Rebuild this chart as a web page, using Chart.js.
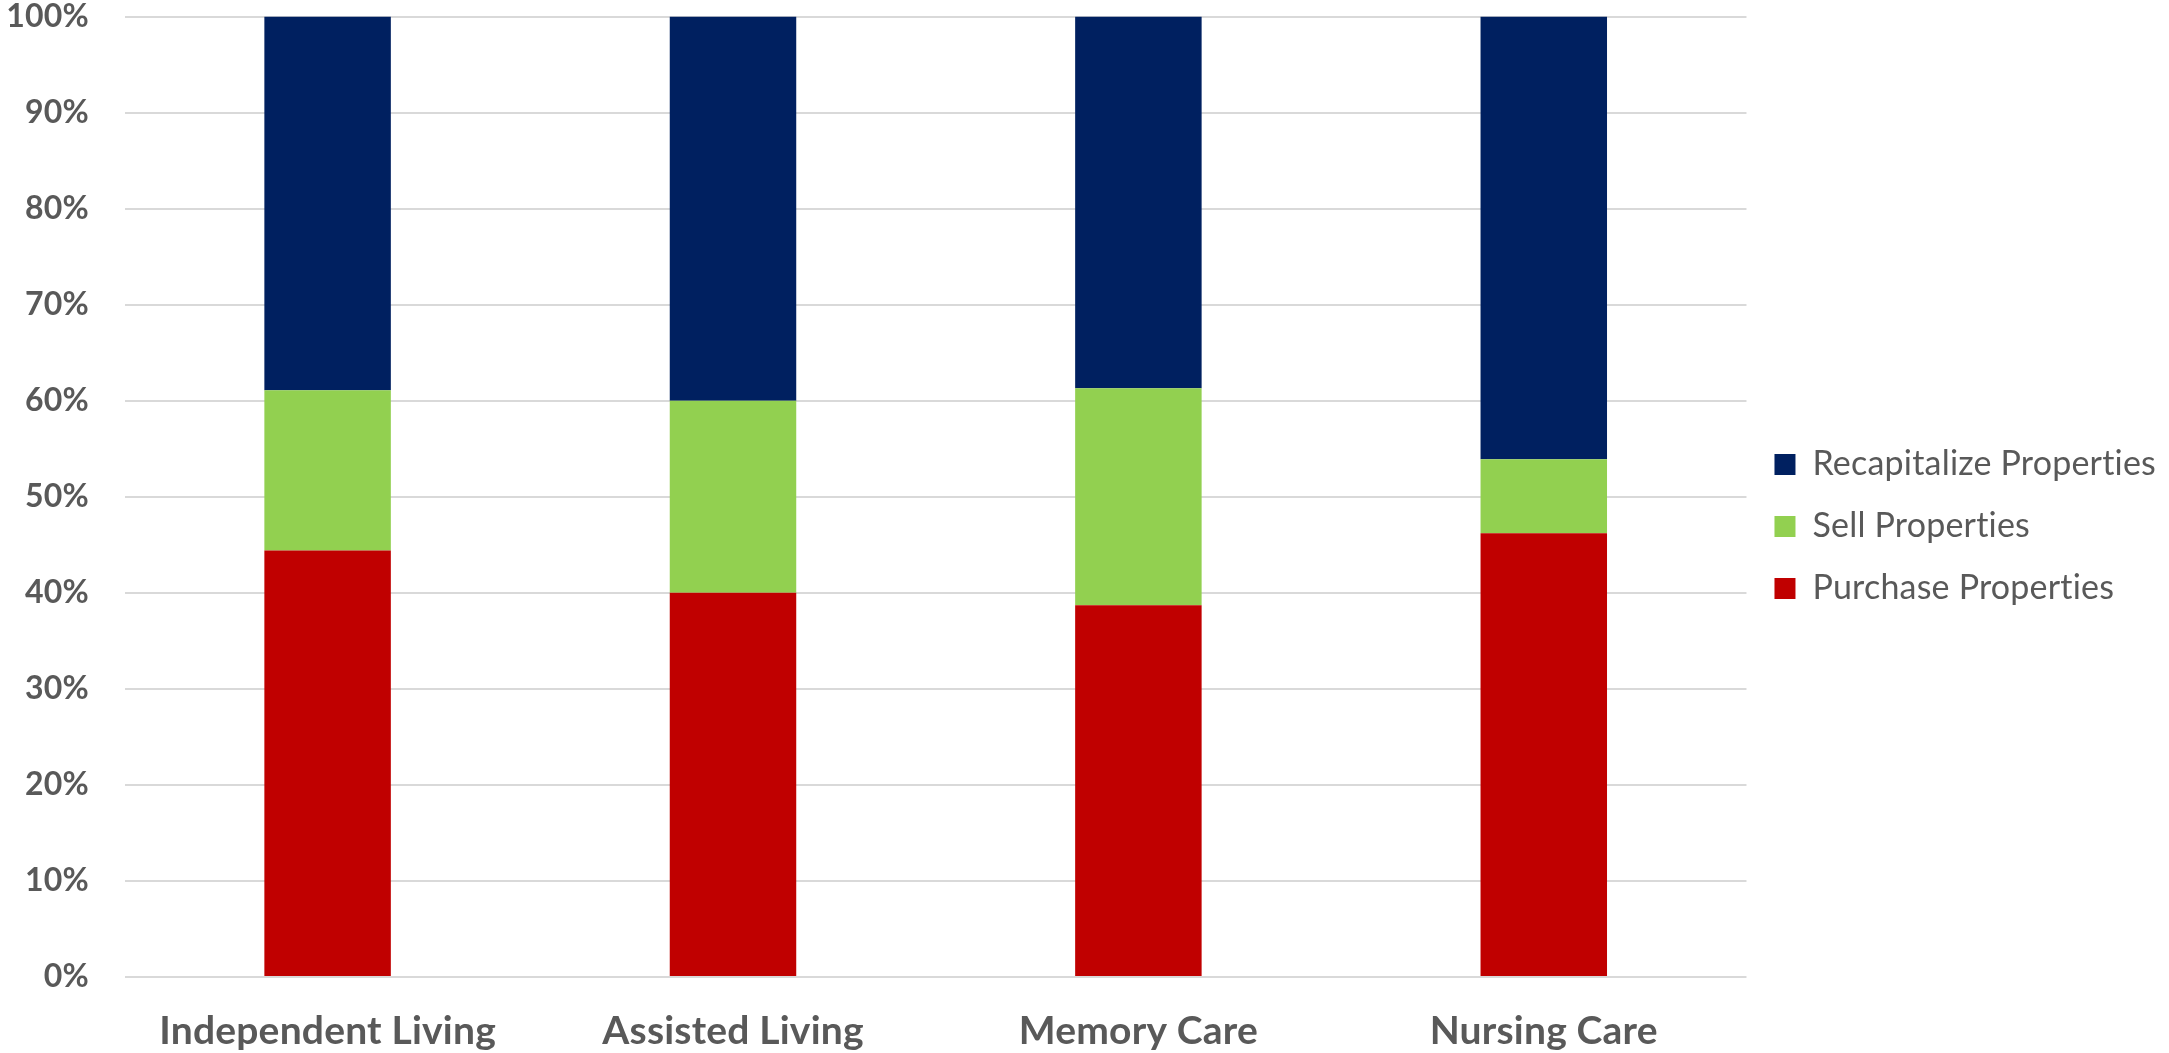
<!DOCTYPE html>
<html>
<head>
<meta charset="utf-8">
<style>
  html, body { margin: 0; padding: 0; background: #ffffff; }
  #wrap { width: 2169px; height: 1053px; position: relative; }
</style>
<script src="https://cdn.jsdelivr.net/npm/chart.js@4/dist/chart.umd.min.js"></script>
</head>
<body>
<div id="wrap"><canvas id="chart" width="2169" height="1053"></canvas></div>
<script>
// Property strategy shares by care segment (percent of respondents)
const categories = ['Independent Living', 'Assisted Living', 'Memory Care', 'Nursing Care'];
const purchaseProperties = [44.4, 40.0, 38.7, 46.2];
const sellProperties = [16.7, 20.0, 22.6, 7.7];
const recapitalizeProperties = [38.9, 40.0, 38.7, 46.1];
const yTicks = [0, 10, 20, 30, 40, 50, 60, 70, 80, 90, 100];

const textColor = '#595959';
const xTickPad = 33;
const yTickPad = 36;

// Tiny letter spacing keeps the canvas from using optional ligatures (e.g. "ti")
const noLigatures = {
  id: 'noLigatures',
  beforeDraw(chart) { chart.ctx.letterSpacing = '0.2px'; }
};

const ctx = document.getElementById('chart').getContext('2d');
new Chart(ctx, {
  type: 'bar',
  data: {
    labels: categories,
    datasets: [
      { label: 'Purchase Properties', data: purchaseProperties, backgroundColor: '#C00000' },
      { label: 'Sell Properties', data: sellProperties, backgroundColor: '#92D050' },
      { label: 'Recapitalize Properties', data: recapitalizeProperties, backgroundColor: '#002060' }
    ]
  },
  plugins: [noLigatures],
  options: {
    responsive: false,
    animation: false,
    layout: { padding: { left: 7, right: 7, top: 0, bottom: 0 } },
    datasets: {
      bar: { categoryPercentage: 1.0, barPercentage: 0.312, borderWidth: 0 }
    },
    scales: {
      x: {
        stacked: true,
        grid: { display: false, drawTicks: false },
        border: { display: false },
        ticks: {
          color: textColor,
          padding: xTickPad,
          maxRotation: 0,
          font: { family: 'Lato', size: 39, weight: 'bold', lineHeight: 1.1 }
        },
        // the axis reserves the tick padding on both sides of the labels; keep only the inner one
        afterFit: (axis) => {
          axis.height -= xTickPad;
          axis.paddingLeft = 0;
          axis.paddingRight = 0;
        }
      },
      y: {
        stacked: true,
        min: 0,
        max: 100,
        afterBuildTicks: (axis) => { axis.ticks = yTicks.map(v => ({ value: v })); },
        grid: { color: '#D9D9D9', lineWidth: 2, drawTicks: false },
        border: { display: false },
        ticks: {
          color: textColor,
          padding: yTickPad,
          font: { family: 'Lato', size: 32, weight: 'bold', lineHeight: 1.0 },
          callback: (v) => v + '%'
        },
        afterFit: (axis) => {
          axis.width -= yTickPad;
          axis.paddingTop = 16.5;
          axis.paddingBottom = 0;
        }
      }
    },
    plugins: {
      tooltip: { enabled: false },
      legend: {
        position: 'right',
        reverse: true,
        labels: {
          color: textColor,
          boxWidth: 21,
          boxHeight: 21,
          padding: 28,
          font: { family: 'Lato', size: 34 }
        }
      }
    }
  }
});
</script>
</body>
</html>
